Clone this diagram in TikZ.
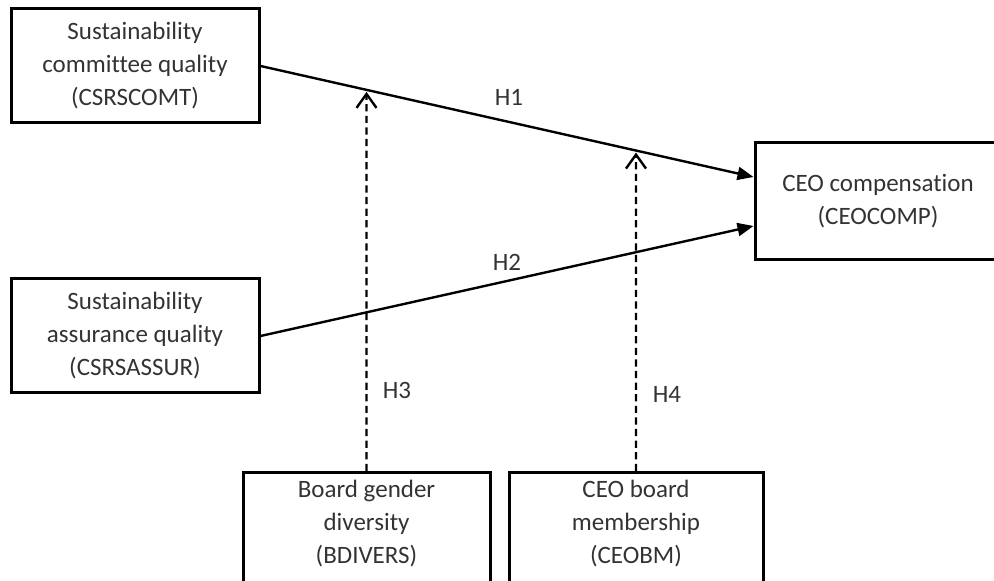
\documentclass[tikz,border=0pt]{standalone}
\usepackage{fontspec}
\setmainfont{Carlito}[Ligatures=NoCommon]
\usetikzlibrary{arrows.meta,calc}
\begin{document}
\begin{tikzpicture}[x=0.5pt,y=-0.5pt,
  txt/.style={align=center, inner sep=0pt, text=black!80, font=\fontsize{12.5pt}{16.5pt}\selectfont},
  box/.style={txt, draw=black, line width=1.5pt},
  frame/.style={draw=black, line width=1.5pt, inner sep=0pt},
  solidarrow/.style={line width=1.2pt, -{Triangle[length=8pt,width=6.5pt]}},
  modarrow/.style={line width=1.2pt, dash pattern=on 3.6pt off 2.2pt, -{Straight Barb[length=7pt,width=10pt]}},
  hlab/.style={txt}]
\useasboundingbox (0,0) rectangle (994,581);
\node[box, minimum width=124pt, minimum height=57pt] (comt) at (135,66) {Sustainability\\committee quality\\(CSRSCOMT)};
\node[box, minimum width=124pt, minimum height=57pt] (assur) at (135,336) {Sustainability\\assurance quality\\(CSRSASSUR)};
\node[box, minimum width=123pt, minimum height=58.5pt] (ceo) at (878,201.5) {CEO compensation\\(CEOCOMP)};
\node[frame, minimum width=123.5pt, minimum height=70pt, anchor=north] (bdiv) at (366.5,471) {};
\node[txt] (bdivt) at (366.5,524) {Board gender\\diversity\\(BDIVERS)};
\node[frame, minimum width=127pt, minimum height=70pt, anchor=north] (ceobm) at (636,471) {};
\node[txt] (ceobmt) at (636,524) {CEO board\\membership\\(CEOBM)};
\coordinate (h1e) at ($(ceo.west)+(0,-24.5)$);
\coordinate (h2e) at ($(ceo.west)+(0,24.5)$);
\draw[solidarrow] (comt.east) -- (h1e);
\draw[solidarrow] (assur.east) -- (h2e);
\coordinate (bdup) at ($(bdiv.north)+(0,-450)$);
\coordinate (cbup) at ($(ceobm.north)+(0,-450)$);
\coordinate (m1) at (intersection of bdiv.north--bdup and comt.east--h1e);
\coordinate (m2) at (intersection of ceobm.north--cbup and comt.east--h1e);
\draw[modarrow] (bdiv.north) -- ($(m1)+(0,2)$);
\draw[modarrow] (ceobm.north) -- ($(m2)+(0,2)$);
\node[hlab] (h1) at (509,97) {H1};
\node[hlab] (h2) at (507,262) {H2};
\node[hlab] (h3) at (397,390) {H3};
\node[hlab] (h4) at (667,394) {H4};
\end{tikzpicture}
\end{document}
